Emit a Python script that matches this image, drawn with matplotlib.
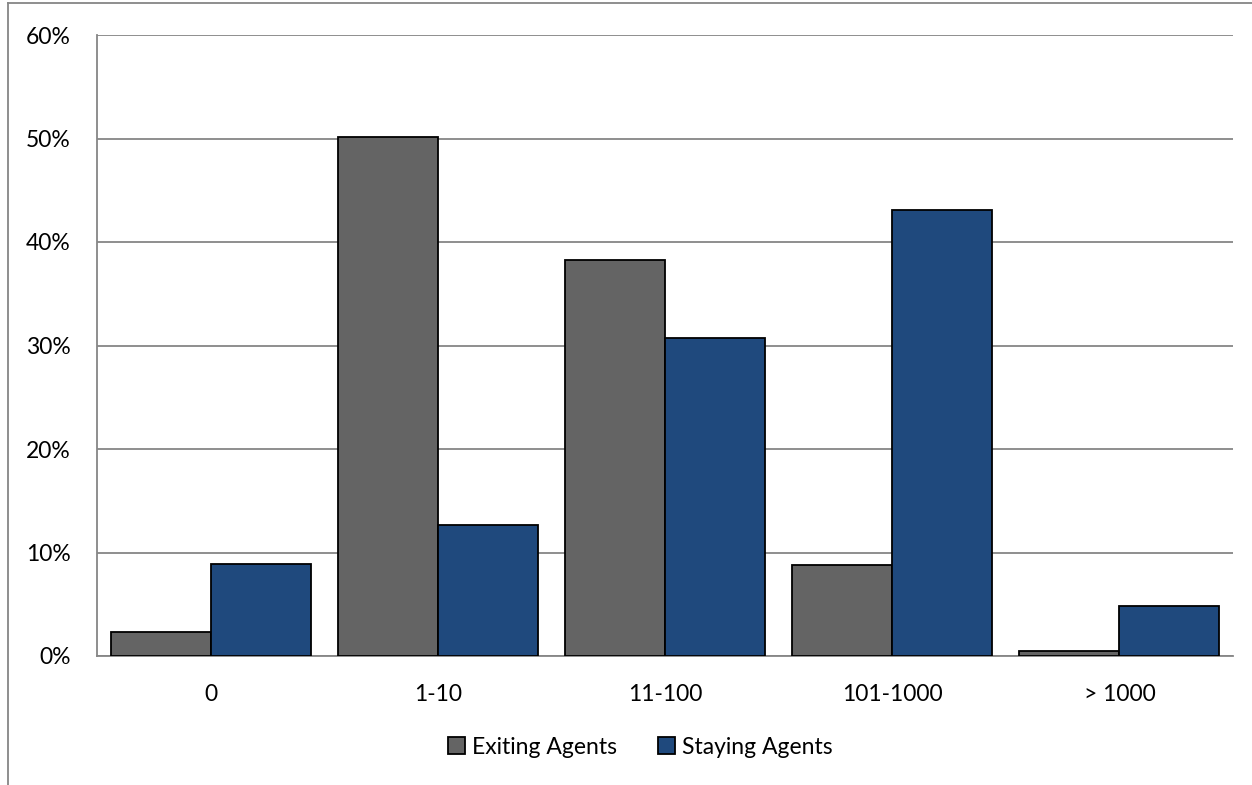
import matplotlib
matplotlib.use("Agg")
import matplotlib.pyplot as plt
import numpy as np
from matplotlib.ticker import PercentFormatter
from matplotlib.lines import Line2D

categories = ["0", "1-10", "11-100", "101-1000", "> 1000"]
exiting = [2.3, 50.1, 38.3, 8.8, 0.5]
staying = [8.9, 12.7, 30.7, 43.1, 4.8]
series_names = ["Exiting Agents", "Staying Agents"]
colors = ["#646464", "#1F497D"]

plt.rcParams['font.family'] = ['Lato', 'DejaVu Sans']
FS = 16.5

fig = plt.figure(figsize=(12.52, 7.85), dpi=100)
ax = fig.add_axes([97/1252, 1-656/785, (1233-97)/1252, (656-35)/785])

x = np.arange(len(categories))
w = 0.44
ax.bar(x - w/2, exiting, w, color=colors[0], edgecolor="black", linewidth=1.3, label=series_names[0], zorder=3)
ax.bar(x + w/2, staying, w, color=colors[1], edgecolor="black", linewidth=1.3, label=series_names[1], zorder=3)

ax.set_xlim(-0.5, len(categories) - 0.5)
ax.set_ylim(0, 60)
ax.set_yticks(np.arange(0, 61, 10))
ax.yaxis.set_major_formatter(PercentFormatter(decimals=0))
ax.set_xticks(x)
ax.set_xticklabels(categories)
ax.tick_params(axis='both', length=0, labelsize=FS, colors="black")
ax.tick_params(axis='y', pad=19)
ax.tick_params(axis='x', pad=20)
ax.yaxis.grid(True, color="#868686", linewidth=1.3, zorder=0)
for s in ["top", "right"]:
    ax.spines[s].set_visible(False)
for s in ["left", "bottom"]:
    ax.spines[s].set_color("#868686")
    ax.spines[s].set_linewidth(1.3)

leg = fig.legend(loc="center", bbox_to_anchor=(640/1252, 1-747/785), ncol=2, frameon=False,
                 fontsize=FS, handlelength=0.75, handleheight=0.75, handletextpad=0.3, columnspacing=1.8)

# figure border (left and top)
fig.add_artist(Line2D([8/1252, 8/1252], [1-3/785, 1-785/785], transform=fig.transFigure, color="#868686", linewidth=1.3))
fig.add_artist(Line2D([8/1252, 1], [1-3/785, 1-3/785], transform=fig.transFigure, color="#868686", linewidth=1.3))

fig.savefig("out.png", dpi=100)
